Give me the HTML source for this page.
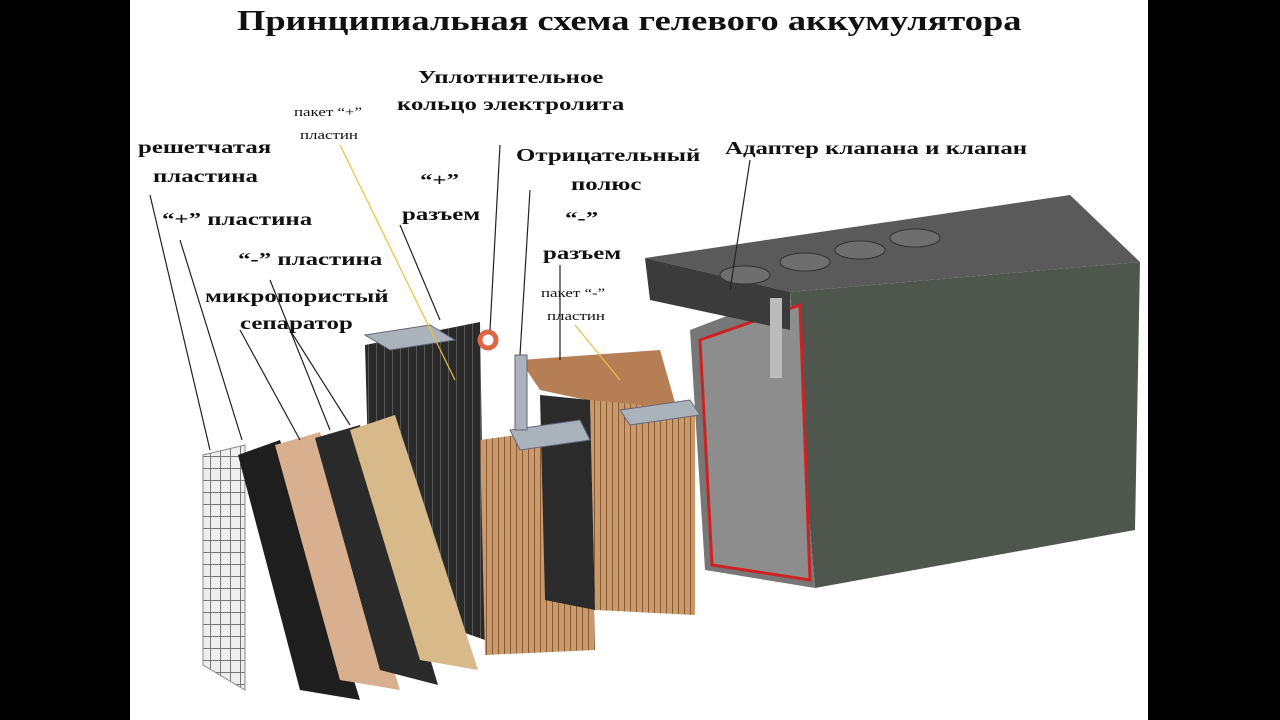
<!DOCTYPE html>
<html><head><meta charset="utf-8"><style>
html,body{margin:0;padding:0;width:1280px;height:720px;overflow:hidden;background:#000}
#c{position:absolute;left:130px;top:0;width:1018px;height:720px;background:#fff}
.t{position:absolute;font-family:"Liberation Serif","Noto Serif CJK SC",serif;font-weight:bold;color:#111;white-space:nowrap;font-size:18px;line-height:1;transform:scaleX(1.38);transform-origin:0 0}
.s{font-size:13px;font-weight:normal;transform:scaleX(1.3)}
svg{position:absolute;left:0;top:0}
</style></head><body>
<div id="c"></div>
<svg width="1280" height="720" viewBox="0 0 1280 720">
<defs>
<pattern id="grid" width="10" height="12" patternUnits="userSpaceOnUse"><rect width="10" height="12" fill="#eee"/><path d="M0 0H10M0 0V12" stroke="#777" stroke-width="2"/></pattern>
<pattern id="str" width="6" height="10" patternUnits="userSpaceOnUse"><rect width="6" height="10" fill="#c89a6c"/><path d="M0 0V10" stroke="#8a5a34" stroke-width="2"/></pattern>
<pattern id="dk" width="8" height="10" patternUnits="userSpaceOnUse"><rect width="8" height="10" fill="#2a2a2a"/><path d="M0 0V10" stroke="#555" stroke-width="2"/></pattern>
</defs>
<!-- battery -->
<polygon points="645,258 1070,195 1140,262 790,292" fill="#5a5a5a"/>
<polygon points="790,292 1140,262 1135,530 815,588" fill="#4e564e"/>
<polygon points="690,330 790,292 815,588 705,570" fill="#777"/>
<polygon points="700,340 800,305 810,580 712,565" fill="#8d8d8d" stroke="#c22" stroke-width="3"/>
<polygon points="645,258 790,292 790,330 650,300" fill="#3b3b3b"/>
<g fill="#6e6e6e" stroke="#333"><ellipse cx="745" cy="275" rx="25" ry="9"/><ellipse cx="805" cy="262" rx="25" ry="9"/><ellipse cx="860" cy="250" rx="25" ry="9"/><ellipse cx="915" cy="238" rx="25" ry="9"/></g>
<rect x="770" y="298" width="12" height="80" fill="#bbb"/>
<!-- plates -->
<polygon points="365,345 480,322 485,640 372,600" fill="url(#dk)"/>
<polygon points="203,455 245,445 245,690 203,665" fill="url(#grid)" stroke="#888"/>
<polygon points="238,455 280,440 360,700 300,690" fill="#1e1e1e"/>
<polygon points="275,445 320,432 400,690 340,680" fill="#d8b090"/>
<polygon points="315,438 360,425 438,685 380,670" fill="#2a2a2a"/>
<polygon points="350,430 395,415 478,670 420,660" fill="#d8b98a"/>
<polygon points="480,440 590,425 595,650 485,655" fill="url(#str)"/>
<polygon points="520,360 660,350 680,420 540,390" fill="#b57e54"/>
<polygon points="590,400 695,410 695,615 595,610" fill="url(#str)"/>
<polygon points="540,395 590,400 595,610 545,600" fill="#2b2b2b"/>
<g fill="#aab3bb" stroke="#667"><polygon points="365,335 430,325 455,340 390,350"/><polygon points="620,410 690,400 700,415 630,425"/><polygon points="510,430 580,420 590,440 520,450"/><rect x="515" y="355" width="12" height="75"/></g>
<circle cx="488" cy="340" r="8" fill="none" stroke="#d64" stroke-width="5"/>
<!-- leader lines -->
<g stroke="#222" stroke-width="1.2" fill="none">
<line x1="150" y1="195" x2="210" y2="450"/><line x1="180" y1="240" x2="242" y2="440"/>
<line x1="270" y1="280" x2="330" y2="430"/><line x1="240" y1="330" x2="300" y2="440"/>
<line x1="290" y1="330" x2="350" y2="425"/><line x1="400" y1="225" x2="440" y2="320"/>
<line x1="500" y1="145" x2="490" y2="330"/><line x1="530" y1="190" x2="520" y2="355"/>
<line x1="560" y1="265" x2="560" y2="360"/><line x1="750" y1="160" x2="730" y2="290"/>
</g>
<line x1="340" y1="145" x2="455" y2="380" stroke="#e8c040" stroke-width="1.2"/>
<line x1="575" y1="325" x2="620" y2="380" stroke="#e8c040" stroke-width="1.2"/>
</svg>
<div class="t" style="left:237px;top:8px;font-size:28px;transform:scaleX(1.3)">Принципиальная схема гелевого аккумулятора</div>
<div class="t" style="left:418px;top:68px">Уплотнительное</div>
<div class="t" style="left:397px;top:95px">кольцо электролита</div>
<div class="t s" style="left:294px;top:105px">пакет “+”</div>
<div class="t s" style="left:300px;top:128px">пластин</div>
<div class="t" style="left:138px;top:138px">решетчатая</div>
<div class="t" style="left:153px;top:167px">пластина</div>
<div class="t" style="left:516px;top:146px">Отрицательный</div>
<div class="t" style="left:571px;top:175px">полюс</div>
<div class="t" style="left:725px;top:139px">Адаптер клапана и клапан</div>
<div class="t" style="left:420px;top:171px">“+”</div>
<div class="t" style="left:402px;top:205px">разъем</div>
<div class="t" style="left:162px;top:210px">“+” пластина</div>
<div class="t" style="left:565px;top:209px">“-”</div>
<div class="t" style="left:543px;top:244px">разъем</div>
<div class="t" style="left:238px;top:250px">“-” пластина</div>
<div class="t s" style="left:541px;top:286px">пакет “-”</div>
<div class="t s" style="left:547px;top:309px">пластин</div>
<div class="t" style="left:205px;top:287px">микропористый</div>
<div class="t" style="left:240px;top:314px">сепаратор</div>
</body></html>
